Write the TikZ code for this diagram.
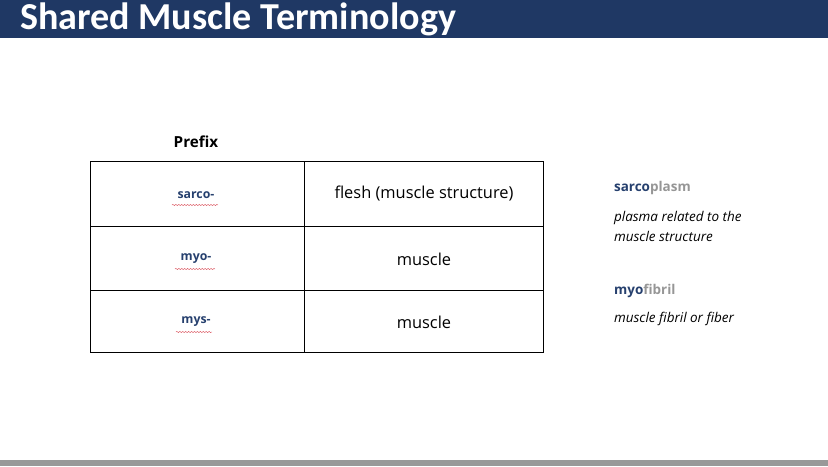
\documentclass[tikz,border=0pt]{standalone}
\usepackage{fontspec}
\setmainfont{Open Sans}
\newfontfamily\titlefont{Carlito}
\usepackage{tikz}
\usetikzlibrary{decorations.pathmorphing}
\definecolor{navy}{RGB}{31,56,100}
\definecolor{prefixblue}{RGB}{38,64,110}
\definecolor{rootgrey}{RGB}{150,150,150}
\definecolor{spellred}{RGB}{220,90,100}
\tikzset{cell/.style={font=\fontsize{14}{16}\selectfont},
  prefixcell/.style={font=\fontsize{10.5}{13}\selectfont\bfseries,text=prefixblue},
  spell/.style={spellred,line width=0.4pt,decorate,decoration={snake,amplitude=0.5pt,segment length=2.5pt}}}

\begin{document}
\begin{tikzpicture} [x=0.03cm,y=-0.03cm]
\useasboundingbox (0,0) rectangle (828,466);
\fill [navy](0,0) rectangle (828,38);
\fill [gray!80](0,460) rectangle (828,466);
\node [anchor=west,text=white,font=\titlefont\fontsize{32.5}{34}\selectfont\bfseries] (title) at (16,19) {Shared Muscle Terminology};
\node [font=\fontsize{13}{16}\selectfont\bfseries] (head) at (196,142) {Prefix};
% table
\draw [thick](90,161) rectangle (543,352);
\draw [thick](304,161) -- (304,352);
\draw [thick](90,226) -- (543,226);
\draw [thick](90,290) -- (543,290);
\node [prefixcell] (sarco) at (196,195) {sarco-};
\node [prefixcell] (myo) at (196,259) {myo-};
\node [prefixcell] (mys) at (196,322) {mys-};
\draw [spell](172,205) -- (218,205);
\draw [spell](175,269) -- (215,269);
\draw [spell](176,332) -- (212,332);
\node [cell] (flesh) at (424,194) {flesh (muscle structure)};
\node [cell] (muscleA) at (424,259) {muscle};
\node [cell] (muscleB) at (424,322) {muscle};
% examples
\node [anchor=west,font=\fontsize{11.5}{15}\selectfont\bfseries] (plasm) at (610,188) {\textcolor{prefixblue}{sarco}\textcolor{rootgrey}{plasm}};
\node [anchor=north west,align=left,font=\fontsize{11.5}{17}\selectfont\itshape] (plasmdef) at (610,207) {plasma related to the\\muscle structure};
\node [anchor=west,font=\fontsize{11.5}{15}\selectfont\bfseries] (fibril) at (610,291) {\textcolor{prefixblue}{myo}\textcolor{rootgrey}{fibril}};
\node [anchor=west,font=\fontsize{11.5}{15}\selectfont\itshape] (fibrildef) at (610,319) {muscle fibril or fiber};
\end{tikzpicture}
\end{document}
